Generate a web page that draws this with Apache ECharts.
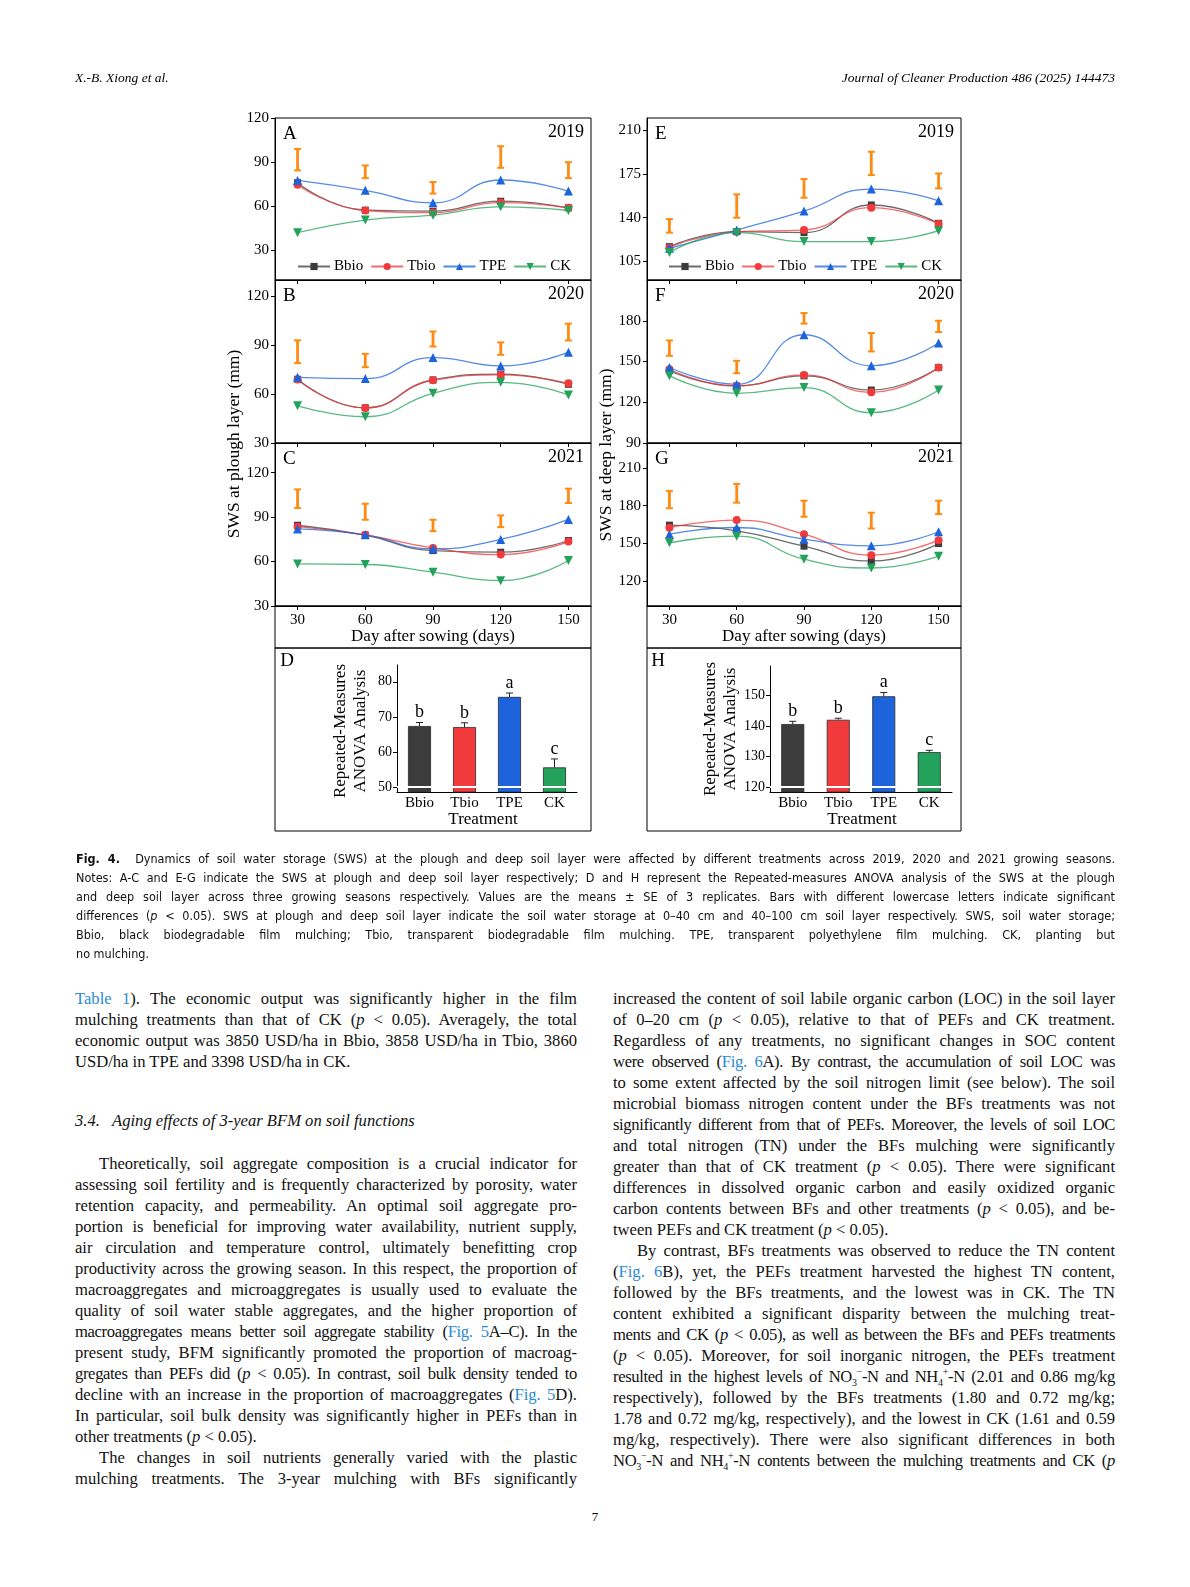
<!DOCTYPE html>
<html>
<head>
<meta charset="utf-8">
<script src="https://cdn.jsdelivr.net/npm/echarts@6.0.0/dist/echarts.min.js"></script>
<style>
  html, body { margin:0; padding:0; background:#fff; }
  body { width:1190px; height:1587px; position:relative; overflow:hidden; }
  #chart { position:absolute; left:0; top:0; width:1190px; height:850px; }
  .hdr { position:absolute; top:69px; font: italic 13.5px 'Liberation Serif', serif; color:#000; line-height:18px; white-space:nowrap; }
  .cap { position:absolute; left:76px; top:849px; width:1039px; font-family:'DejaVu Sans Condensed','Liberation Sans Narrow','Liberation Sans',sans-serif; font-stretch:condensed; font-size:12.5px; line-height:19px; color:#111; }
  .col { position:absolute; width:502px; font: 16.6px 'Liberation Serif', serif; line-height:21px; color:#111; }
  .j { text-align:justify; text-align-last:justify; height:21px; overflow:visible; }
  .cap .j { height:19px; }
  .l { text-align:left; height:21px; }
  .ind { text-indent:24px; }
  .t { letter-spacing:-0.35px; word-spacing:-0.5px; }
  .lk { color:#2a8ad2; }
  .h3 { position:absolute; left:75px; top:1110px; font: italic 16.6px 'Liberation Serif', serif; line-height:21px; color:#111; }
  .pg { position:absolute; left:0; width:1190px; top:1509px; text-align:center; font: 13px 'Liberation Serif', serif; }
  sub, sup { font-size:10px; line-height:0; }
</style>
</head>
<body>
<div id="chart"></div>

<div class="hdr" style="left:75px;">X.-B. Xiong et al.</div>
<div class="hdr" style="right:75px;">Journal of Cleaner Production 486 (2025) 144473</div>

<div class="cap">
  <div class="j"><b>Fig. 4.</b>&nbsp; Dynamics of soil water storage (SWS) at the plough and deep soil layer were affected by different treatments across 2019, 2020 and 2021 growing seasons.</div>
  <div class="j">Notes: A-C and E-G indicate the SWS at plough and deep soil layer respectively; D and H represent the Repeated-measures ANOVA analysis of the SWS at the plough</div>
  <div class="j">and deep soil layer across three growing seasons respectively. Values are the means ± SE of 3 replicates. Bars with different lowercase letters indicate significant</div>
  <div class="j">differences (<i>p</i> &lt; 0.05). SWS at plough and deep soil layer indicate the soil water storage at 0–40 cm and 40–100 cm soil layer respectively. SWS, soil water storage;</div>
  <div class="j">Bbio, black biodegradable film mulching; Tbio, transparent biodegradable film mulching. TPE, transparent polyethylene film mulching. CK, planting but</div>
  <div class="l" style="height:19px">no mulching.</div>
</div>

<div class="col" style="left:75px; top:988px;">
  <div class="j"><span class="lk">Table 1</span>). The economic output was significantly higher in the film</div>
  <div class="j">mulching treatments than that of CK (<i>p</i> &lt; 0.05). Averagely, the total</div>
  <div class="j">economic output was 3850 USD/ha in Bbio, 3858 USD/ha in Tbio, 3860</div>
  <div class="l">USD/ha in TPE and 3398 USD/ha in CK.</div>
</div>

<div class="h3">3.4.&nbsp;&nbsp; Aging effects of 3-year BFM on soil functions</div>

<div class="col" style="left:75px; top:1153px;">
  <div class="j ind">Theoretically, soil aggregate composition is a crucial indicator for</div>
  <div class="j">assessing soil fertility and is frequently characterized by porosity, water</div>
  <div class="j">retention capacity, and permeability. An optimal soil aggregate pro-</div>
  <div class="j">portion is beneficial for improving water availability, nutrient supply,</div>
  <div class="j">air circulation and temperature control, ultimately benefitting crop</div>
  <div class="j">productivity across the growing season. In this respect, the proportion of</div>
  <div class="j">macroaggregates and microaggregates is usually used to evaluate the</div>
  <div class="j">quality of soil water stable aggregates, and the higher proportion of</div>
  <div class="j t">macroaggregates means better soil aggregate stability (<span class="lk">Fig. 5</span>A–C). In the</div>
  <div class="j">present study, BFM significantly promoted the proportion of macroag-</div>
  <div class="j t">gregates than PEFs did (<i>p</i> &lt; 0.05). In contrast, soil bulk density tended to</div>
  <div class="j">decline with an increase in the proportion of macroaggregates (<span class="lk">Fig. 5</span>D).</div>
  <div class="j">In particular, soil bulk density was significantly higher in PEFs than in</div>
  <div class="l">other treatments (<i>p</i> &lt; 0.05).</div>
  <div class="j ind">The changes in soil nutrients generally varied with the plastic</div>
  <div class="j">mulching treatments. The 3-year mulching with BFs significantly</div>
</div>

<div class="col" style="left:613px; top:988px;">
  <div class="j">increased the content of soil labile organic carbon (LOC) in the soil layer</div>
  <div class="j">of 0–20 cm (<i>p</i> &lt; 0.05), relative to that of PEFs and CK treatment.</div>
  <div class="j">Regardless of any treatments, no significant changes in SOC content</div>
  <div class="j t">were observed (<span class="lk">Fig. 6</span>A). By contrast, the accumulation of soil LOC was</div>
  <div class="j">to some extent affected by the soil nitrogen limit (see below). The soil</div>
  <div class="j">microbial biomass nitrogen content under the BFs treatments was not</div>
  <div class="j t">significantly different from that of PEFs. Moreover, the levels of soil LOC</div>
  <div class="j">and total nitrogen (TN) under the BFs mulching were significantly</div>
  <div class="j">greater than that of CK treatment (<i>p</i> &lt; 0.05). There were significant</div>
  <div class="j">differences in dissolved organic carbon and easily oxidized organic</div>
  <div class="j">carbon contents between BFs and other treatments (<i>p</i> &lt; 0.05), and be-</div>
  <div class="l">tween PEFs and CK treatment (<i>p</i> &lt; 0.05).</div>
  <div class="j ind">By contrast, BFs treatments was observed to reduce the TN content</div>
  <div class="j">(<span class="lk">Fig. 6</span>B), yet, the PEFs treatment harvested the highest TN content,</div>
  <div class="j">followed by the BFs treatments, and the lowest was in CK. The TN</div>
  <div class="j">content exhibited a significant disparity between the mulching treat-</div>
  <div class="j t">ments and CK (<i>p</i> &lt; 0.05), as well as between the BFs and PEFs treatments</div>
  <div class="j">(<i>p</i> &lt; 0.05). Moreover, for soil inorganic nitrogen, the PEFs treatment</div>
  <div class="j t">resulted in the highest levels of NO<sub>3</sub><sup>−</sup>-N and NH<sub>4</sub><sup>+</sup>-N (2.01 and 0.86 mg/kg</div>
  <div class="j">respectively), followed by the BFs treatments (1.80 and 0.72 mg/kg;</div>
  <div class="j">1.78 and 0.72 mg/kg, respectively), and the lowest in CK (1.61 and 0.59</div>
  <div class="j">mg/kg, respectively). There were also significant differences in both</div>
  <div class="j t">NO<sub>3</sub><sup>−</sup>-N and NH<sub>4</sub><sup>+</sup>-N contents between the mulching treatments and CK (<i>p</i></div>
</div>

<div class="pg">7</div>

<script>
// ---------------- DATA ----------------
const days = [30, 60, 90, 120, 150];
const treatments = ['Bbio', 'Tbio', 'TPE', 'CK'];

// Plough layer (0-40 cm), SWS (mm)
const ploughBbio2019 = [76.1, 57.4, 56.7, 63.5, 59.0];
const ploughTbio2019 = [74.7, 57.2, 55.8, 62.6, 59.0];
const ploughTPE2019  = [77.6, 70.9, 62.4, 77.9, 70.4];
const ploughCK2019   = [42.1, 50.7, 54.0, 59.7, 57.2];
const ploughBarLow2019  = [84.4, 79.2, 68.7, 86.2, 79.2];
const ploughBarHigh2019 = [99.0, 87.8, 76.5, 100.8, 90.0];

const ploughBbio2020 = [69.1, 51.6, 68.7, 72.2, 66.0];
const ploughTbio2020 = [69.0, 51.5, 68.5, 71.8, 66.6];
const ploughTPE2020  = [70.3, 69.5, 82.4, 77.3, 85.7];
const ploughCK2020   = [52.9, 46.1, 60.5, 67.2, 59.4];
const ploughBarLow2020  = [79.0, 76.5, 89.2, 84.1, 92.9];
const ploughBarHigh2020 = [93.0, 84.7, 98.4, 91.7, 103.2];

const ploughBbio2021 = [84.5, 77.8, 67.4, 66.3, 74.2];
const ploughTbio2021 = [83.5, 78.0, 69.2, 64.7, 73.5];
const ploughTPE2021  = [82.0, 78.0, 68.6, 74.9, 88.4];
const ploughCK2021   = [58.4, 58.0, 52.8, 47.1, 60.7];
const ploughBarLow2021  = [96.1, 88.2, 80.5, 83.2, 99.5];
const ploughBarHigh2021 = [108.7, 99.0, 88.2, 91.1, 109.2];

// Deep layer (40-100 cm), SWS (mm)
const deepBbio2019 = [116.8, 128.8, 128.0, 150.2, 135.5];
const deepTbio2019 = [116.0, 128.8, 130.1, 148.0, 134.9];
const deepTPE2019  = [115.4, 130.1, 145.3, 163.0, 153.6];
const deepCK2019   = [112.0, 128.0, 120.8, 120.8, 129.6];
const deepBarLow2019  = [128.0, 140.0, 156.0, 174.2, 163.5];
const deepBarHigh2019 = [138.9, 158.7, 171.0, 192.9, 175.5];

const deepBbio2020 = [143.3, 132.0, 139.4, 129.0, 145.6];
const deepTbio2020 = [144.3, 132.0, 140.1, 127.3, 145.6];
const deepTPE2020  = [145.6, 133.2, 169.7, 146.8, 163.6];
const deepCK2020   = [139.6, 126.6, 130.8, 112.3, 129.0];
const deepBarLow2020  = [154.2, 141.4, 177.9, 157.4, 171.7];
const deepBarHigh2020 = [165.5, 150.5, 185.7, 171.0, 180.0];

const deepBbio2021 = [164.5, 160.0, 147.7, 135.9, 149.8];
const deepTbio2021 = [162.4, 168.5, 157.3, 140.5, 152.5];
const deepTPE2021  = [157.3, 162.6, 153.3, 148.0, 159.2];
const deepCK2021   = [150.4, 155.7, 137.3, 130.3, 139.7];
const deepBarLow2021  = [177.9, 182.4, 171.2, 161.8, 173.3];
const deepBarHigh2021 = [191.8, 197.4, 184.0, 174.4, 184.0];

// Repeated-measures ANOVA means and SE
const ploughMeans = [67.4, 67.1, 75.7, 55.6];
const ploughSE    = [1.0, 1.2, 1.1, 2.4];
const ploughLetters = ['b', 'b', 'a', 'c'];
const deepMeans = [140.6, 142.0, 149.7, 131.4];
const deepSE    = [0.9, 0.5, 1.2, 0.6];
const deepLetters = ['b', 'b', 'a', 'c'];

// Tick labels
const ploughTicks = [30, 60, 90, 120];
const deepTicks2019 = [105, 140, 175, 210];
const deepTicks2020 = [90, 120, 150, 180];
const deepTicks2021 = [120, 150, 180, 210];
const ploughAnovaTicks = [50, 60, 70, 80];
const deepAnovaTicks = [120, 130, 140, 150];
const years = ['2019', '2020', '2021'];

// ---------------- CHART ----------------
const FONT = 'Liberation Serif';
const colors = ['#3c3c3c', '#f03a3c', '#1d64dc', '#22a25a'];
const symbols = ['rect', 'circle', 'triangle', 'triangle'];
const symRot = [0, 0, 0, 180];
const symSize = [7, 8, 9, 9];
const ORANGE = '#ff8a12';

const lineGrids = [
  { left: 275, top: 118, width: 316, height: 162 },
  { left: 275, top: 280, width: 316, height: 163 },
  { left: 275, top: 443, width: 316, height: 163 },
  { left: 647, top: 118, width: 314, height: 162 },
  { left: 647, top: 280, width: 314, height: 163 },
  { left: 647, top: 443, width: 314, height: 163 }
];
const panels = [
  { s: [ploughBbio2019, ploughTbio2019, ploughTPE2019, ploughCK2019], lo: ploughBarLow2019, hi: ploughBarHigh2019, min: 10, max: 120, ticks: ploughTicks, letter: 'A', year: years[0] },
  { s: [ploughBbio2020, ploughTbio2020, ploughTPE2020, ploughCK2020], lo: ploughBarLow2020, hi: ploughBarHigh2020, min: 30, max: 130, ticks: ploughTicks, letter: 'B', year: years[1] },
  { s: [ploughBbio2021, ploughTbio2021, ploughTPE2021, ploughCK2021], lo: ploughBarLow2021, hi: ploughBarHigh2021, min: 30, max: 140, ticks: ploughTicks, letter: 'C', year: years[2] },
  { s: [deepBbio2019, deepTbio2019, deepTPE2019, deepCK2019], lo: deepBarLow2019, hi: deepBarHigh2019, min: 90, max: 220, ticks: deepTicks2019, letter: 'E', year: years[0] },
  { s: [deepBbio2020, deepTbio2020, deepTPE2020, deepCK2020], lo: deepBarLow2020, hi: deepBarHigh2020, min: 90, max: 210, ticks: deepTicks2020, letter: 'F', year: years[1] },
  { s: [deepBbio2021, deepTbio2021, deepTPE2021, deepCK2021], lo: deepBarLow2021, hi: deepBarHigh2021, min: 100, max: 230, ticks: deepTicks2021, letter: 'G', year: years[2] }
];

const grid = [], xAxis = [], yAxis = [], series = [], graphic = [];
const axisLabelStyle = { color: '#000', fontFamily: FONT, fontSize: 15 };

panels.forEach((p, g) => {
  grid.push(Object.assign({ show: true, borderColor: '#000', borderWidth: 1, backgroundColor: 'transparent' }, lineGrids[g]));
  const showX = (g === 2 || g === 5);
  xAxis.push({
    type: 'value', gridIndex: g, min: 20, max: 160,
    axisLine: { show: true, lineStyle: { color: '#000', width: 1 } },
    axisTick: { show: true, length: 4, inside: false, customValues: days, lineStyle: { color: '#000' } },
    axisLabel: { show: showX, customValues: days, margin: 7, ...axisLabelStyle },
    splitLine: { show: false }
  });
  yAxis.push({
    type: 'value', gridIndex: g, min: p.min, max: p.max,
    axisLine: { show: true, lineStyle: { color: '#000', width: 1 } },
    axisTick: { show: true, length: 4, customValues: p.ticks, lineStyle: { color: '#000' } },
    axisLabel: { customValues: p.ticks, margin: 6, ...axisLabelStyle },
    splitLine: { show: false }
  });
  // LSD bars
  series.push({
    type: 'custom', xAxisIndex: g, yAxisIndex: g, z: 3,
    data: days.map((d, j) => [d, p.lo[j], p.hi[j]]),
    encode: { x: 0, y: [1, 2] },
    renderItem: function (params, api) {
      const a = api.coord([api.value(0), api.value(1)]);
      const b = api.coord([api.value(0), api.value(2)]);
      return {
        type: 'group', children: [
          { type: 'line', shape: { x1: a[0], y1: a[1], x2: b[0], y2: b[1] }, style: { stroke: ORANGE, lineWidth: 2.8 } },
          { type: 'line', shape: { x1: a[0] - 3.5, y1: a[1], x2: a[0] + 3.5, y2: a[1] }, style: { stroke: ORANGE, lineWidth: 2 } },
          { type: 'line', shape: { x1: b[0] - 3.5, y1: b[1], x2: b[0] + 3.5, y2: b[1] }, style: { stroke: ORANGE, lineWidth: 2 } }
        ]
      };
    }
  });
  p.s.forEach((vals, k) => {
    series.push({
      name: treatments[k], type: 'line', xAxisIndex: g, yAxisIndex: g,
      data: days.map((d, j) => [d, vals[j]]),
      smooth: 0.5,
      symbol: symbols[k], symbolRotate: symRot[k], symbolSize: symSize[k],
      itemStyle: { color: colors[k] },
      lineStyle: { color: colors[k], width: 1.3, opacity: 0.75 },
      z: 4 + k
    });
  });
  const g0 = lineGrids[g];
  graphic.push({ type: 'text', x: g0.left + 8, y: g0.top + 16, style: { text: p.letter, fontFamily: FONT, fontSize: 19, fill: '#000', align: 'left', verticalAlign: 'middle' } });
  graphic.push({ type: 'text', x: g0.left + g0.width - 7, y: g0.top + 14, style: { text: p.year, fontFamily: FONT, fontSize: 18, fill: '#000', align: 'right', verticalAlign: 'middle' } });
});

// ANOVA panels
const anova = [
  { grid: { left: 397, top: 665, width: 180, height: 127 }, means: ploughMeans, se: ploughSE, letters: ploughLetters, min: 48.57, max: 84.8, ticks: ploughAnovaTicks, brk: 50 },
  { grid: { left: 770, top: 666, width: 182, height: 126 }, means: deepMeans, se: deepSE, letters: deepLetters, min: 118.35, max: 159.6, ticks: deepAnovaTicks, brk: 120 }
];
anova.forEach((a, idx) => {
  const g = 6 + idx;
  grid.push(Object.assign({ show: false }, a.grid));
  xAxis.push({
    type: 'category', gridIndex: g, data: treatments,
    axisLine: { show: true, lineStyle: { color: '#000', width: 1 } },
    axisTick: { show: false },
    axisLabel: { margin: 4, ...axisLabelStyle }
  });
  yAxis.push({
    type: 'value', gridIndex: g, min: a.min, max: a.max,
    axisLine: { show: true, lineStyle: { color: '#000', width: 1 } },
    axisTick: { show: true, length: 4, customValues: a.ticks, lineStyle: { color: '#000' } },
    axisLabel: { customValues: a.ticks, margin: 5, ...axisLabelStyle, fontSize: 14 },
    splitLine: { show: false }
  });
  series.push({
    type: 'bar', xAxisIndex: g, yAxisIndex: g, barWidth: 23,
    data: a.means.map((v, i) => ({ value: v, itemStyle: { color: colors[i], borderColor: '#2a2a2a', borderWidth: 0.8 } })),
    markLine: { silent: true, symbol: 'none', label: { show: false }, lineStyle: { color: '#fff', width: 2.2, type: 'solid' }, data: [{ yAxis: a.brk }] },
    z: 2
  });
  series.push({
    type: 'custom', xAxisIndex: g, yAxisIndex: g, z: 5,
    data: a.means.map((v, i) => [i, v, v + a.se[i]]),
    encode: { x: 0, y: [1, 2] },
    renderItem: function (params, api) {
      const p1 = api.coord([api.value(0), api.value(1)]);
      const p2 = api.coord([api.value(0), api.value(2)]);
      return {
        type: 'group', children: [
          { type: 'line', shape: { x1: p1[0], y1: p1[1], x2: p2[0], y2: p2[1] }, style: { stroke: '#222', lineWidth: 1 } },
          { type: 'line', shape: { x1: p2[0] - 3.5, y1: p2[1], x2: p2[0] + 3.5, y2: p2[1] }, style: { stroke: '#222', lineWidth: 1 } },
          { type: 'text', x: p2[0], y: p2[1] - 1, style: { text: a.letters[params.dataIndex], fontFamily: FONT, fontSize: 18, fill: '#000', align: 'center', verticalAlign: 'bottom' } }
        ]
      };
    }
  });
});

// Decorative boxes
[[275, 606, 316, 42], [275, 648, 316, 183], [647, 606, 314, 42], [647, 648, 314, 183]].forEach(r => {
  graphic.push({ type: 'rect', shape: { x: r[0], y: r[1], width: r[2], height: r[3] }, style: { fill: 'none', stroke: '#000', lineWidth: 1 }, z: 1 });
});

// Texts
const T = (text, x, y, size, opts) => graphic.push(Object.assign({ type: 'text', x: x, y: y, style: { text: text, fontFamily: FONT, fontSize: size, fill: '#000', align: 'center', verticalAlign: 'middle', lineHeight: size + 3 } }, opts || {}));
T('Day after sowing (days)', 433, 637, 17);
T('Day after sowing (days)', 804, 637, 17);
T('SWS at plough layer (mm)', 234, 444, 17.5, { rotation: Math.PI / 2 });
T('SWS at deep layer (mm)', 606, 455, 17.5, { rotation: Math.PI / 2 });
T('D', 287, 661, 19);
T('H', 658, 661, 19);
T('Repeated-Measures\nANOVA Analysis', 351, 731, 17, { rotation: Math.PI / 2 });
T('Repeated-Measures\nANOVA Analysis', 721, 729, 17, { rotation: Math.PI / 2 });
T('Treatment', 483, 820, 17);
T('Treatment', 862, 820, 17);

const legendBase = {
  data: treatments, orient: 'horizontal', top: 259, itemWidth: 32, itemHeight: 9, itemGap: 7, padding: 0,
  textStyle: { fontFamily: FONT, fontSize: 15, color: '#000', padding: [0, 0, 0, -1] }
};

const chart = echarts.init(document.getElementById('chart'), null, { renderer: 'canvas' });
chart.setOption({
  animation: false,
  backgroundColor: 'transparent',
  textStyle: { fontFamily: FONT },
  legend: [Object.assign({ left: 297 }, legendBase), Object.assign({ left: 668 }, legendBase)],
  grid: grid, xAxis: xAxis, yAxis: yAxis, series: series, graphic: graphic
});
</script>
</body>
</html>
